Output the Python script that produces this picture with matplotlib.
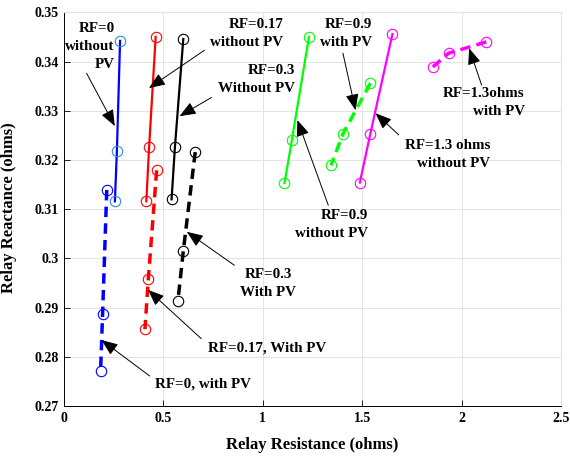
import matplotlib
matplotlib.use("Agg")
import matplotlib.pyplot as plt

plt.rcParams['font.family'] = ['Liberation Serif', 'DejaVu Serif']
plt.rcParams['font.weight'] = 'bold'

# RF = 0
rf0_nopv_r = [0.282, 0.266, 0.256]
rf0_nopv_x = [0.3442, 0.3219, 0.3116]
rf0_pv_r = [0.215, 0.194, 0.184]
rf0_pv_x = [0.3139, 0.2887, 0.2771]
# RF = 0.17
rf017_nopv_r = [0.461, 0.428, 0.414]
rf017_nopv_x = [0.3450, 0.3226, 0.3116]
rf017_pv_r = [0.466, 0.424, 0.407]
rf017_pv_x = [0.3179, 0.2958, 0.2856]
# RF = 0.3
rf03_nopv_r = [0.600, 0.558, 0.541]
rf03_nopv_x = [0.3446, 0.3227, 0.3120]
rf03_pv_r = [0.660, 0.600, 0.573]
rf03_pv_x = [0.3216, 0.3015, 0.2914]
# RF = 0.9
rf09_nopv_r = [1.232, 1.146, 1.109]
rf09_nopv_x = [0.3450, 0.3240, 0.3153]
rf09_pv_r = [1.541, 1.403, 1.343]
rf09_pv_x = [0.3356, 0.3253, 0.3189]
# RF = 1.3
rf13_nopv_r = [1.652, 1.540, 1.488]
rf13_nopv_x = [0.3456, 0.3252, 0.3154]
rf13_pv_r = [2.124, 1.935, 1.855]
rf13_pv_x = [0.3440, 0.3417, 0.3389]

x_ticks = [0, 0.5, 1, 1.5, 2, 2.5]
x_tick_labels = ['0', '0.5', '1', '1.5', '2', '2.5']
y_ticks = [0.27, 0.28, 0.29, 0.30, 0.31, 0.32, 0.33, 0.34, 0.35]
y_tick_labels = ['0.27', '0.28', '0.29', '0.3', '0.31', '0.32', '0.33', '0.34', '0.35']

fig = plt.figure(figsize=(5.7, 4.57), dpi=100)
ax = fig.add_axes([0.1123, 0.1116, 0.872, 0.8614])

solid = dict(linestyle='-', linewidth=1.6, marker='o', markersize=7.5,
             markerfacecolor='none', markeredgewidth=0.8)
dashed = dict(linestyle='--', dashes=(3, 1.8), linewidth=2.5, marker='o', markersize=7.5,
              markerfacecolor='none', markeredgewidth=0.8)

ax.plot(rf0_nopv_r, rf0_nopv_x, color='b', markeredgecolor='#2a8fd6', **solid)
ax.plot(rf0_pv_r, rf0_pv_x, color='b', markeredgecolor='b', **dashed)
ax.plot(rf017_nopv_r, rf017_nopv_x, color='r', markeredgecolor='r', **solid)
ax.plot(rf017_pv_r, rf017_pv_x, color='r', markeredgecolor='r', **dashed)
ax.plot(rf03_nopv_r, rf03_nopv_x, color='k', markeredgecolor='k', **solid)
ax.plot(rf03_pv_r, rf03_pv_x, color='k', markeredgecolor='k', **dashed)
ax.plot(rf09_nopv_r, rf09_nopv_x, color='#00ff00', markeredgecolor='#00ff00', **solid)
ax.plot(rf09_pv_r, rf09_pv_x, color='#00ff00', markeredgecolor='#00ff00', **dashed)
ax.plot(rf13_nopv_r, rf13_nopv_x, color='#ff00ff', markeredgecolor='#ff00ff', **solid)
ax.plot(rf13_pv_r, rf13_pv_x, color='#ff00ff', markeredgecolor='#ff00ff', **dashed)

# annotations: text, text anchor, alignment, arrow tail, arrow tip
notes = [
    ("RF=0\nwithout\nPV", (0.2555, 0.3430), 'right', (0.1137, 0.3376), (0.2555, 0.3269)),
    ("RF=0.17\nwithout PV", (1.1022, 0.3458), 'right', (0.7064, 0.3423), (0.4273, 0.3346)),
    ("RF=0.3\nWithout PV", (1.1623, 0.3363), 'right', (0.7415, 0.3327), (0.5812, 0.3289)),
    ("RF=0.9\nwith PV", (1.548, 0.3456), 'right', (1.4028, 0.3417), (1.4664, 0.3301)),
    ("RF=1.3ohms\nwith PV", (2.318, 0.3316), 'right', (2.1007, 0.3352), (2.0376, 0.3427)),
    ("RF=1.3 ohms\nwithout PV", (2.144, 0.3212), 'right', (1.6834, 0.3251), (1.5667, 0.3295)),
    ("RF=0.9\nwithout PV", (1.528, 0.3069), 'right', (1.3292, 0.3108), (1.1739, 0.3281)),
    ("RF=0.3\nWith PV", (1.027, 0.2948), 'center', (0.8567, 0.2986), (0.6177, 0.3054)),
    ("RF=0.17, With PV", (1.0235, 0.2817), 'center', (0.6899, 0.2837), (0.4224, 0.2936)),
    ("RF=0, with PV", (0.7014, 0.2744), 'center', (0.4309, 0.2761), (0.1889, 0.2834)),
]
for txt, pos, align, tail, tip in notes:
    ax.annotate('', xy=tip, xytext=tail,
                arrowprops=dict(arrowstyle='-|>,head_length=1.0,head_width=0.4',
                                color='k', lw=0.7, shrinkA=0, shrinkB=0))
    ax.text(pos[0], pos[1], txt, ha=align, va='center', multialignment=align,
            fontsize=10.8, fontweight='bold', linespacing=1.5)

ax.set_xlim(0, 2.5)
ax.set_ylim(0.27, 0.35)
ax.set_xticks(x_ticks)
ax.set_xticklabels(x_tick_labels)
ax.set_yticks(y_ticks)
ax.set_yticklabels(y_tick_labels)
ax.tick_params(direction='in', length=4, width=0.6, labelsize=10, pad=4)
for lab in ax.get_xticklabels() + ax.get_yticklabels():
    lab.set_fontweight('bold')

ax.grid(True, color='#e3e3e3', linewidth=0.7)
ax.set_axisbelow(True)
for s in ['top', 'right']:
    ax.spines[s].set_color('#e3e3e3')
for s in ['left', 'bottom']:
    ax.spines[s].set_linewidth(0.7)

ax.set_xlabel('Relay Resistance (ohms)', fontsize=12, fontweight='bold')
ax.set_ylabel('Relay Reactance (ohms)', fontsize=12, fontweight='bold')
ax.xaxis.set_label_coords(0.5, -0.08)
ax.yaxis.set_label_coords(-0.094, 0.505)

fig.savefig('out.png', dpi=100)
